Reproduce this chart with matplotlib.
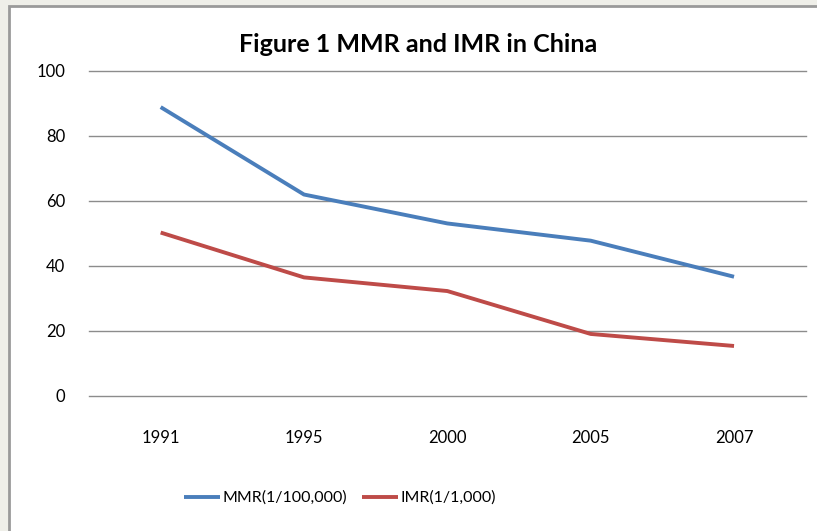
import matplotlib
matplotlib.use("Agg")
import matplotlib.pyplot as plt
from matplotlib.patches import Rectangle

# data
years = ["1991", "1995", "2000", "2005", "2007"]
mmr = [88.8, 61.9, 53.0, 47.7, 36.6]
imr = [50.2, 36.4, 32.2, 19.0, 15.3]
yticks = [0, 20, 40, 60, 80, 100]

W, H = 817, 531
plt.rcParams['font.family'] = ['Lato', 'DejaVu Sans']

fig = plt.figure(figsize=(W / 100, H / 100), dpi=100, facecolor='#efefe9')

# white chart panel with the grey frame
fig.patches.append(Rectangle((9 / W, -0.05), 1.1, 1 - 6 / H + 0.05, transform=fig.transFigure,
                             facecolor='white', edgecolor='#9a9a9a', linewidth=2.0, zorder=-10))

ax = fig.add_axes([89 / W, 1 - 395.7 / H, (805.7 - 89) / W, 325 / H])
ax.set_facecolor('none')

xs = range(len(years))
l1, = ax.plot(xs, mmr, color='#4a7ebb', lw=2.8, solid_capstyle='butt', label='MMR(1/100,000)')
l2, = ax.plot(xs, imr, color='#be4b48', lw=2.8, solid_capstyle='butt', label='IMR(1/1,000)')

ax.set_xlim(-0.5, len(years) - 0.5)
ax.set_ylim(0, 100)
ax.set_yticks(yticks)
ax.set_xticks(list(xs))
ax.set_xticklabels(years)
ax.grid(axis='y', color='#8c8c8c', lw=1.0)
for g in ax.get_ygridlines():
    g.set_clip_on(False)
ax.set_axisbelow(True)
for s in ax.spines.values():
    s.set_visible(False)
ax.tick_params(length=0, labelsize=12, colors='black')
ax.tick_params(axis='y', pad=17)
ax.tick_params(axis='x', pad=25)

fig.text(418 / W, 1 - 44 / H, 'Figure 1 MMR and IMR in China', ha='center', va='center',
         fontsize=18, fontweight='bold')

fig.legend(handles=[l1, l2], loc='center', bbox_to_anchor=(340 / W, 1 - 498 / H), ncol=2,
           frameon=False, fontsize=11.5, handlelength=2.3, handletextpad=0.15, columnspacing=0.9)

fig.savefig('out.png', dpi=100, facecolor=fig.get_facecolor())
